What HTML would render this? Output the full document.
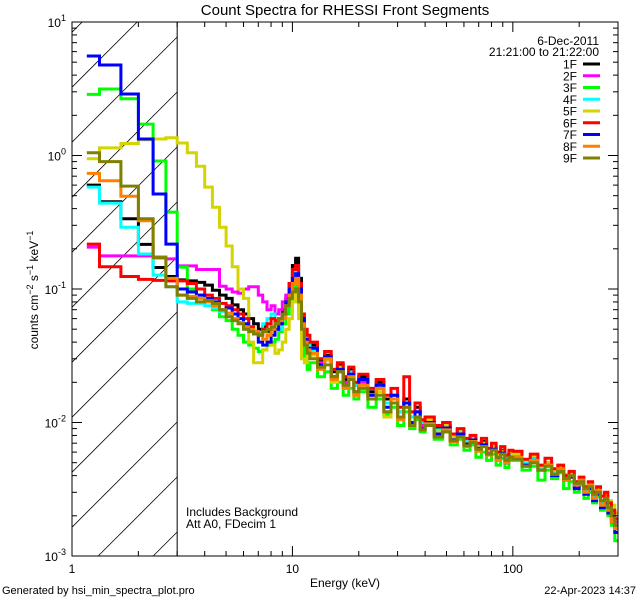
<!DOCTYPE html>
<html><head><meta charset="utf-8"><style>
html,body{margin:0;padding:0;background:#fff;width:640px;height:600px;overflow:hidden;}
svg{display:block;font-family:"Liberation Sans","DejaVu Sans",sans-serif;}
</style></head><body>
<svg id="chart" width="640" height="600" viewBox="0 0 640 600" xmlns="http://www.w3.org/2000/svg">
<rect width="640" height="600" fill="#fff"/>
<text x="345" y="15" font-size="15" text-anchor="middle">Count Spectra for RHESSI Front Segments</text>
<text x="345" y="587" font-size="12" text-anchor="middle">Energy (keV)</text>
<text transform="translate(38,290) rotate(-90)" font-size="12" text-anchor="middle">counts cm<tspan dy="-5" font-size="9">−2</tspan><tspan dy="5"> s</tspan><tspan dy="-5" font-size="9">−1</tspan><tspan dy="5"> keV</tspan><tspan dy="-5" font-size="9">−1</tspan></text>
<text x="2" y="594" font-size="11">Generated by hsi_min_spectra_plot.pro</text>
<text x="636" y="594" font-size="11" text-anchor="end">22-Apr-2023 14:37</text>
<text x="186" y="516" font-size="12">Includes Background</text>
<text x="186" y="528" font-size="12">Att A0, FDecim 1</text>
<text x="599" y="45" font-size="12" text-anchor="end">6-Dec-2011</text>
<text x="599" y="56" font-size="12" text-anchor="end">21:21:00 to 21:22:00</text>
<g id="hatch"></g>
<g id="series"></g>
<g id="axes"></g>
<g id="legend"></g>
</svg>
<script>
// ---- data ----
const binSegments = [[1.1667,1.3333,0.1667],[1.3333,12,0.33333],[12,20,1],[20,40,2],[40,100,4],[100,300,10]];
const seriesNames = ["1F","2F","3F","4F","5F","6F","7F","8F","9F"];
const seriesColors = ["#000000","#ff00ff","#00ff00","#00ffff","#d4d400","#ff0000","#0000ff","#ff8000","#808000"];
const s1F = [0.60,0.45,0.336,0.216,0.145,0.124,
0.117,0.115,0.112,0.107,0.098,0.09,0.085,0.076,0.07,0.065,0.06,0.055,0.05,0.052,0.048,0.05,0.055,0.06,0.07,0.085,0.11,0.15,0.17,0.12,0.06,0.045,0.04,
.038,.029,.032,.024,.027,.021,.025,.019,.022,.017,.02,.015,.016,.012,.015,.011,.013,.0098,
.0105,.009,.0095,.008,.0088,.0074,.0076,.0068,.0072,.006,.0065,.0058,.0062,.0055,.0058,
.0058,.005,.0055,.0046,.005,.0041,.0045,.0038,.004,.0034,.0036,.003,.0032,.0027,.003,.0024,.0026,.0021,.0019,.0017];
const s2F = [0.206,0.177,0.177,0.177,0.171,0.168,
0.149,0.149,0.14,0.14,0.14,0.105,0.1,0.095,0.093,0.1,0.104,0.104,0.09,0.08,0.07,0.075,0.065,0.07,0.08,0.09,0.1,0.12,0.12,0.09,0.05,0.045,0.04,
.033,.028,.03,.022,.024,.02,.023,.016,.02,.016,.018,.012,.016,.011,.014,.010,.012,.0095,
.011,.0085,.009,.0078,.0083,.0072,.0075,.0066,.0068,.0061,.0066,.0056,.006,.0054,.0057,
.0055,.0049,.0053,.0047,.0049,.0043,.0044,.0037,.0039,.0033,.0035,.0031,.0033,.0028,.0029,.0025,.0024,.0023,.002,.0018];
const s3F = [2.87,3.15,2.66,1.72,0.91,0.377,
0.146,0.1,0.09,0.08,0.07,0.062,0.058,0.05,0.045,0.04,0.038,0.036,0.034,0.035,0.038,0.04,0.042,0.048,0.055,0.065,0.08,0.1,0.11,0.07,0.04,0.03,0.025,
.028,.022,.024,.018,.02,.016,.018,.015,.017,.013,.015,.0115,.013,.0095,.012,.009,.0105,.0085,
.0095,.0075,.0085,.0068,.0075,.0062,.0068,.0055,.006,.0052,.0058,.0048,.0054,.0046,.0052,
.0052,.0044,.0047,.0037,.0044,.0038,.0042,.0032,.0036,.003,.0034,.0027,.003,.0025,.0028,.0022,.0024,.002,.0017,.0013];
const s4F = [0.58,0.44,0.29,0.183,0.127,0.104,
0.08,0.078,0.078,0.075,0.072,0.068,0.065,0.06,0.055,0.05,0.05,0.048,0.047,0.055,0.06,0.065,0.055,0.05,0.06,0.075,0.1,0.13,0.14,0.1,0.06,0.045,0.038,
.035,.03,.031,.025,.026,.022,.024,.019,.021,.018,.018,.014,.016,.012,.014,.011,.012,.01,
.0105,.0088,.0093,.008,.0086,.0073,.0077,.0067,.007,.0062,.0064,.0058,.006,.0055,.0057,
.0056,.005,.0053,.0046,.0049,.0043,.0045,.0039,.004,.0035,.0036,.0031,.0033,.0028,.0029,.0025,.0025,.0022,.0019,.0016];
const s5F = [0.946,1.14,1.23,1.31,1.33,1.36,
1.24,1.05,0.83,0.58,0.41,0.29,0.21,0.147,0.1,0.085,0.04,0.028,0.028,0.035,0.04,0.038,0.033,0.035,0.04,0.05,0.06,0.08,0.09,0.06,0.03,0.028,0.035,
.032,.026,.029,.02,.026,.018,.021,.016,.018,.015,.017,.011,.015,.0105,.013,.0095,.012,.009,
.0105,.0085,.0095,.0078,.0085,.007,.0078,.0065,.007,.0062,.0066,.0058,.0061,.0056,.006,
.0058,.0052,.0056,.0047,.005,.0044,.0047,.0041,.0042,.0036,.0038,.0033,.0035,.0031,.0032,.0028,.0029,.0026,.0024,.0021];
const s6F = [0.217,0.147,0.124,0.118,0.116,0.115,
0.115,0.11,0.1,0.09,0.085,0.078,0.075,0.07,0.065,0.06,0.052,0.048,0.045,0.05,0.055,0.06,0.058,0.055,0.065,0.08,0.11,0.14,0.15,0.11,0.065,0.05,0.045,
.04,.03,.034,.025,.028,.022,.026,.02,.023,.018,.021,.016,.018,.013,.022,.012,.014,.0105,
.011,.0095,.01,.0082,.009,.0076,.008,.007,.0076,.0064,.007,.006,.0066,.0057,.0062,
.0061,.0053,.0058,.0048,.0054,.0045,.0048,.004,.0043,.0036,.0039,.0033,.0036,.003,.0033,.0028,.003,.0025,.0022,.0019];
const s7F = [5.56,4.76,2.89,1.33,0.515,0.217,
0.1,0.095,0.09,0.085,0.08,0.07,0.072,0.065,0.06,0.055,0.05,0.046,0.04,0.038,0.04,0.045,0.05,0.055,0.065,0.08,0.1,0.12,0.13,0.1,0.06,0.042,0.036,
.036,.027,.031,.022,.025,.019,.023,.017,.021,.016,.019,.013,.016,.011,.014,.01,.012,.009,
.01,.0082,.0091,.0074,.0082,.0069,.0074,.0064,.0068,.0058,.0063,.0053,.0059,.005,.0055,
.0055,.0048,.0052,.0044,.0048,.004,.0044,.0037,.0039,.0032,.0036,.0029,.0032,.0026,.0029,.0023,.0025,.0021,.0018,.0015];
const s8F = [0.735,0.648,0.495,0.325,0.174,0.12,
0.09,0.088,0.085,0.08,0.075,0.07,0.066,0.06,0.056,0.052,0.05,0.048,0.046,0.042,0.045,0.05,0.055,0.058,0.06,0.075,0.09,0.11,0.12,0.09,0.055,0.04,0.035,
.033,.025,.03,.021,.024,.018,.022,.016,.019,.015,.018,.012,.015,.0105,.013,.0095,.011,.0088,
.0098,.0078,.0088,.0072,.0078,.0066,.0072,.0061,.0066,.0057,.0062,.0052,.0058,.005,.0054,
.0055,.0047,.0052,.0044,.0048,.0041,.0045,.0037,.004,.0034,.0037,.003,.0034,.0027,.0031,.0024,.0026,.0022,.0018,.0016];
const s9F = [1.05,0.90,0.59,0.336,0.172,0.104,
0.09,0.085,0.08,0.082,0.078,0.07,0.062,0.058,0.055,0.05,0.048,0.046,0.045,0.048,0.05,0.052,0.055,0.06,0.065,0.075,0.085,0.095,0.1,0.08,0.05,0.038,0.033,
.03,.026,.027,.022,.024,.019,.021,.017,.018,.015,.016,.012,.014,.011,.013,.0095,.011,.0088,
.0095,.0078,.0085,.0073,.0078,.0067,.0071,.0063,.0066,.0058,.0062,.0055,.0058,.0052,.0055,
.0053,.0047,.005,.0044,.0047,.0041,.0043,.0038,.004,.0035,.0036,.0032,.0033,.0029,.003,.0026,.0027,.0023,.002,.0017];
const seriesValues = [s1F,s2F,s3F,s4F,s5F,s6F,s7F,s8F,s9F];
const xTickLabels = ["1","10","100"];
const yTickExps = ["-3","-2","-1","0","1"];
const xMin = 1, xMax = 300, yMin = 0.001, yMax = 10;
const cutoffEnergy = 3;

// ---- layout ----
const L = 72, R = 618, T = 22, B = 556;
const NS = "http://www.w3.org/2000/svg";
const xs = v => L + (Math.log10(v) - Math.log10(xMin)) / (Math.log10(xMax) - Math.log10(xMin)) * (R - L);
const ys = v => B - (Math.log10(v) - Math.log10(yMin)) / (Math.log10(yMax) - Math.log10(yMin)) * (B - T);
function mk(tag, attrs, parent) { const e = document.createElementNS(NS, tag); for (const k in attrs) e.setAttribute(k, attrs[k]); parent.appendChild(e); return e; }

const edges = [];
binSegments.forEach((s, si) => {
  const n = Math.round((s[1] - s[0]) / s[2]);
  for (let i = 0; i < n; i++) edges.push(s[0] + i * (s[1] - s[0]) / n);
  if (si === binSegments.length - 1) edges.push(s[1]);
});

const svg = document.getElementById("chart");
const defs = mk("defs", {}, svg);
const cp = mk("clipPath", { id: "plotclip" }, defs);
mk("rect", { x: L, y: T, width: R - L, height: B - T }, cp);

// hatch lines, geometrically clipped to the excluded region
const hg = document.getElementById("hatch");
const xc = xs(cutoffEnergy);
for (let k = -2; k < 16; k++) {
  const yc = 37 + 55 * k;
  const x0 = Math.max(L, xc + yc - B), x1 = Math.min(xc, xc + yc - T);
  if (x1 <= x0) continue;
  const hl = mk("line", { x1: x0, y1: yc + (xc - x0), x2: x1, y2: yc + (xc - x1), stroke: "#000", "stroke-width": 0.8 }, hg);
  
  
}
const cut = mk("line", { x1: xc, y1: T, x2: xc, y2: B, stroke: "#000", "stroke-width": 1 }, hg);



const sg = document.getElementById("series");
sg.setAttribute("clip-path", "url(#plotclip)");
seriesValues.forEach((vals, si) => {
  let d = "";
  vals.forEach((v, i) => {
    const x0 = xs(edges[i]), x1 = xs(edges[i + 1]), y = ys(v);
    d += (i === 0 ? "M" : "L") + x0.toFixed(1) + "," + y.toFixed(1) + "L" + x1.toFixed(1) + "," + y.toFixed(1);
  });
  const p = mk("path", { d: d, fill: "none", stroke: seriesColors[si], "stroke-width": 3, "stroke-linejoin": "miter" }, sg);
  
  
});

const ag = document.getElementById("axes");
const frame = mk("rect", { x: L, y: T, width: R - L, height: B - T, fill: "none", stroke: "#000", "stroke-width": 1 }, ag);


for (let dec = 0; dec <= 2; dec++) {
  for (let m = 1; m <= 9; m++) {
    const v = m * Math.pow(10, dec);
    if (v > xMax || (dec === 0 && m === 1)) continue;
    const x = xs(v), len = m === 1 ? 10 : 5;
    const t1 = mk("line", { x1: x, y1: B, x2: x, y2: B - len, stroke: "#000" }, ag);
    
    
    const t2 = mk("line", { x1: x, y1: T, x2: x, y2: T + len, stroke: "#000" }, ag);
    
    
  }
}
xTickLabels.forEach(lbl => {
  const t = mk("text", { x: xs(+lbl), y: B + 17, "font-size": 12, "text-anchor": "middle" }, ag);
  t.textContent = lbl;
  
  
});
for (let e = -3; e <= 0; e++) {
  for (let m = 1; m <= 9; m++) {
    const v = m * Math.pow(10, e);
    if (m === 1 && e === -3) continue;
    const y = ys(v), len = m === 1 ? 10 : 5;
    const t1 = mk("line", { x1: L, y1: y, x2: L + len, y2: y, stroke: "#000" }, ag);
    
    
    const t2 = mk("line", { x1: R, y1: y, x2: R - len, y2: y, stroke: "#000" }, ag);
    
    
  }
}
yTickExps.forEach(ex => {
  const y = ys(Math.pow(10, +ex));
  const t = mk("text", { x: 66, y: y + 5, "font-size": 12, "text-anchor": "end" }, ag);
  t.innerHTML = '10<tspan dy="-6" font-size="9">' + ex + '</tspan>';
  
  
});

const lg = document.getElementById("legend");
seriesNames.forEach((nm, i) => {
  const y = 64 + i * 11.75;
  const t = mk("text", { x: 577, y: y + 4.5, "font-size": 12, "text-anchor": "end" }, lg);
  t.textContent = nm;
  
  
  const l = mk("line", { x1: 583, y1: y, x2: 600, y2: y, stroke: seriesColors[i], "stroke-width": 3 }, lg);
  
  
});
</script>
</body></html>
